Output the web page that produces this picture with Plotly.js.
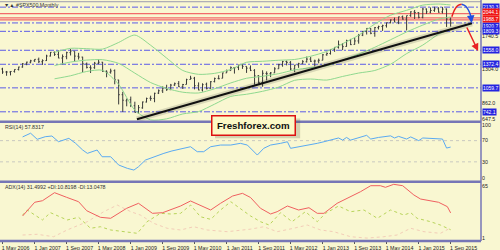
<!DOCTYPE html>
<html><head><meta charset="utf-8">
<script src="https://cdn.plot.ly/plotly-3.0.1.min.js"></script>
<style>html,body{margin:0;padding:0;background:#f9f7d1;}#chart{width:500px;height:250px;}</style>
</head><body><div id="chart"></div>
<script>
// ---- monthly bars (May 2006 .. Sep 2015) ----
const months = [
 "2006-05","2006-06","2006-07","2006-08","2006-09","2006-10","2006-11","2006-12",
 "2007-01","2007-02","2007-03","2007-04","2007-05","2007-06","2007-07","2007-08","2007-09","2007-10","2007-11","2007-12",
 "2008-01","2008-02","2008-03","2008-04","2008-05","2008-06","2008-07","2008-08","2008-09","2008-10","2008-11","2008-12",
 "2009-01","2009-02","2009-03","2009-04","2009-05","2009-06","2009-07","2009-08","2009-09","2009-10","2009-11","2009-12",
 "2010-01","2010-02","2010-03","2010-04","2010-05","2010-06","2010-07","2010-08","2010-09","2010-10","2010-11","2010-12",
 "2011-01","2011-02","2011-03","2011-04","2011-05","2011-06","2011-07","2011-08","2011-09","2011-10","2011-11","2011-12",
 "2012-01","2012-02","2012-03","2012-04","2012-05","2012-06","2012-07","2012-08","2012-09","2012-10","2012-11","2012-12",
 "2013-01","2013-02","2013-03","2013-04","2013-05","2013-06","2013-07","2013-08","2013-09","2013-10","2013-11","2013-12",
 "2014-01","2014-02","2014-03","2014-04","2014-05","2014-06","2014-07","2014-08","2014-09","2014-10","2014-11","2014-12",
 "2015-01","2015-02","2015-03","2015-04","2015-05","2015-06","2015-07","2015-08","2015-09"];
const opens = [
 1310,1270,1270,1278,1303,1336,1377,1400,
 1418,1438,1406,1421,1482,1531,1504,1455,1473,1527,1545,1479,
 1468,1378,1330,1327,1386,1400,1280,1267,1288,1164,969,888,
 903,823,730,794,872,923,920,990,1020,1055,1036,1097,
 1116,1074,1105,1171,1188,1088,1032,1108,1050,1143,1185,1187,
 1258,1289,1328,1329,1365,1345,1322,1292,1220,1132,1251,1247,
 1258,1313,1366,1409,1398,1310,1363,1380,1406,1441,1413,1416,
 1426,1498,1515,1569,1597,1631,1609,1690,1636,1682,1758,1806,
 1846,1783,1858,1873,1884,1924,1962,1929,2004,1972,2019,2066,
 2059,1996,2105,2064,2087,2108,2067,2105,1970];
const highs = [
 1326,1284,1281,1306,1340,1389,1407,1432,
 1441,1461,1438,1499,1535,1541,1556,1503,1539,1576,1545,1524,
 1472,1396,1359,1404,1440,1404,1292,1314,1304,1167,1007,918,
 944,876,832,878,930,956,996,1039,1080,1101,1112,1130,
 1150,1112,1181,1220,1205,1132,1120,1129,1150,1196,1227,1262,
 1302,1344,1332,1365,1371,1346,1357,1308,1229,1293,1278,1270,
 1334,1378,1419,1422,1415,1363,1392,1427,1475,1471,1434,1448,
 1509,1530,1570,1598,1687,1654,1698,1709,1730,1775,1813,1849,
 1850,1867,1884,1897,1924,1968,1991,2005,2019,2018,2076,2093,
 2064,2120,2114,2126,2135,2129,2133,2113,1993];
const lows = [
 1245,1220,1225,1262,1290,1327,1360,1385,
 1403,1389,1364,1416,1476,1484,1453,1371,1439,1489,1407,1435,
 1270,1317,1257,1312,1373,1272,1200,1248,1107,840,741,815,
 805,735,720,783,866,888,869,978,992,1020,1030,1086,
 1071,1045,1105,1170,1040,1028,1011,1040,1048,1132,1173,1187,
 1257,1289,1249,1295,1311,1258,1282,1102,1114,1075,1158,1202,
 1258,1312,1340,1358,1291,1267,1325,1378,1396,1403,1343,1385,
 1426,1485,1501,1537,1581,1560,1605,1627,1633,1646,1746,1767,
 1771,1738,1834,1815,1859,1915,1931,1905,1964,1821,2001,1973,
 1981,1981,2040,2049,2068,2056,2045,1867,1872];
const closes = [
 1270,1270,1277,1304,1336,1378,1401,1418,
 1438,1407,1421,1482,1531,1503,1455,1474,1527,1549,1481,1468,
 1378,1331,1323,1386,1400,1280,1267,1283,1166,969,896,903,
 826,735,798,873,919,919,987,1021,1057,1036,1096,1115,
 1074,1104,1169,1187,1089,1031,1102,1049,1141,1183,1181,1258,
 1286,1327,1326,1364,1345,1321,1292,1219,1131,1253,1247,1258,
 1312,1366,1408,1398,1310,1362,1379,1407,1441,1412,1416,1426,
 1498,1515,1569,1598,1631,1606,1686,1633,1682,1757,1806,1848,
 1783,1859,1872,1884,1924,1960,1931,2003,1972,2018,2068,2059,
 1995,2105,2068,2086,2107,2063,2104,1972,1920];

// ---- Bollinger bands (sampled) ----
const bbDates = ["2007-06","2007-10","2008-02","2008-06","2008-10","2009-02","2009-06","2009-10","2010-02","2010-06","2010-10","2011-02","2011-06","2011-10","2012-02","2012-06","2012-10","2013-02","2013-06","2013-10","2014-02","2014-06","2014-10","2015-02","2015-06","2015-09"];
const bbMid   = [1355,1402,1428,1433,1384,1255,1130,1052,1002,992,1048,1125,1187,1213,1248,1298,1328,1353,1428,1507,1598,1698,1801,1892,1971,1999];
const bbUpper = [1530,1584,1579,1574,1662,1760,1625,1455,1290,1239,1252,1304,1399,1412,1426,1436,1479,1543,1645,1758,1906,2023,2088,2157,2171,2159];
const bbLower = [1180,1220,1277,1292,1106,764,635,649,714,745,844,946,975,1014,1070,1160,1177,1163,1211,1256,1290,1373,1514,1627,1771,1839];

// ---- horizontal levels ----
const blueLevels = [2130.3,1920.7,1809.3,1558.0,1372.4,1059.7,742.1];
const redLevels  = [2044.1,1988.7,1960.0];
const redLabels  = [2044.1,1988.7];
const greyLevels = [2202];
const priceTicks = [1740.5,1304.0,862.0,647.5];

// ---- trend line and arrows ----
const trendDates  = ["2009-02-17","2016-02-10"];
const trendValues = [643,1916];
const arcRedDates = ["2015-09-10","2015-10-04","2015-10-28","2015-11-24"];
const arcRedVals  = [2003,2105,2152,2168];
const arcBlueDates = ["2015-11-24","2015-12-23","2016-01-14","2016-02-01","2016-02-08"];
const arcBlueVals  = [2168,2145,2092,2013,1945];
const redArrowFrom = ["2015-12-28",1880];
const redArrowTo   = ["2016-03-28",1548];

// ---- RSI(14) ----
const rsiDates = ["2006-10-01","2006-12-01","2007-01-20","2007-03-22","2007-05-12","2007-07-01","2007-09-18","2007-11-08","2008-01-01","2008-02-06","2008-03-12","2008-04-20","2008-05-28","2008-08-01","2008-10-01","2008-12-06","2009-01-25","2009-03-01","2009-04-23","2009-06-25","2009-09-10","2009-11-10","2010-02-08","2010-04-01","2010-05-22","2010-07-10","2010-09-01","2010-11-15","2011-02-01","2011-04-15","2011-06-07","2011-08-22","2011-10-10","2011-12-01","2012-02-15","2012-04-07","2012-05-01","2012-07-15","2012-09-07","2012-11-20","2013-01-10","2013-03-01","2013-05-01","2013-06-01","2013-07-01","2013-08-01","2013-10-01","2013-12-01","2014-01-01","2014-03-01","2014-06-01","2014-07-01","2014-08-01","2014-10-01","2014-11-01","2015-01-01","2015-02-01","2015-05-01","2015-07-01","2015-08-01","2015-09-01"];
const rsiValues = [77,84,72.5,77.4,78.7,68,74.3,65,52.3,46,49,52.3,39.6,39.6,24,17.7,14.5,20.8,33.4,39.6,46,50.5,55.5,58.5,49.1,49.1,58.5,61.7,61.7,64.9,61.7,42.8,55.5,61.7,64.9,67.9,55.5,58.5,61.7,64.9,67.9,71.1,75,71,76,71,76,80,73,76,79,75,78,73,77,70,75,74,73,56,57.83];
const rsiLevels = [70,30];

// ---- ADX(14) ----
const adxDates = ["2006-10-01","2007-01-01","2007-03-01","2007-06-01","2007-09-01","2007-12-01","2008-02-01","2008-05-15","2008-08-01","2008-12-01","2009-03-01","2009-06-15","2009-09-01","2010-01-15","2010-04-01","2010-06-15","2010-09-01","2010-11-15","2011-02-15","2011-05-01","2011-07-01","2011-09-15","2011-12-01","2012-01-20","2012-04-07","2012-07-01","2012-09-18","2012-11-20","2013-01-10","2013-04-20","2013-08-01","2013-10-15","2014-01-01","2014-03-15","2014-04-23","2014-06-25","2014-09-01","2014-11-25","2015-01-15","2015-04-01","2015-06-01","2015-08-07","2015-09-01"];
const adxValues = [27.7,44.6,46.5,56.4,50.7,45.3,34.2,26.1,24.9,37.2,43.3,31,31.8,40,46.2,41.2,35.1,43.3,52.3,55.6,50.5,37.2,30.2,33,40,35.1,37.9,31,31,43.3,51.5,57.6,65,65,63,66.7,65,53.6,48.6,46.2,44.6,39.2,31.5];
const pdiDates = ["2006-10-01","2006-11-05","2007-03-01","2007-05-01","2007-09-05","2007-12-01","2008-03-01","2008-05-15","2008-08-01","2008-12-05","2009-02-20","2009-05-05","2009-08-15","2009-11-01","2010-01-15","2010-04-01","2010-06-15","2010-09-01","2010-11-15","2011-02-01","2011-04-15","2011-07-01","2011-09-15","2011-11-20","2012-02-15","2012-05-12","2012-08-22","2012-11-20","2013-01-22","2013-05-01","2013-08-01","2013-11-10","2014-02-20","2014-06-01","2014-09-10","2014-11-01","2014-12-20","2015-04-01","2015-06-15","2015-09-01"];
const pdiValues = [28.9,35.1,22.8,31.8,22.8,26.1,12.6,14.5,10.5,8.4,6.4,20.7,31,30.2,31,41.2,26.8,23.6,35.1,45.3,37.2,27.8,20.7,16.6,31.8,20.7,33,20.7,31,40,33,35.1,24.9,35.1,28.9,31.8,24.9,20.7,16.6,10.82];
const mdiDates = ["2006-10-01","2007-01-20","2007-05-25","2007-09-05","2008-02-05","2008-06-10","2008-09-20","2009-01-01","2009-03-15","2009-06-25","2009-10-05","2010-01-15","2010-04-25","2010-08-05","2011-01-05","2011-07-01","2011-10-10","2012-01-20","2012-05-25","2012-09-05","2012-12-15","2013-03-25","2013-08-01","2013-12-05","2014-04-10","2014-07-20","2014-11-01","2015-02-10","2015-06-15","2015-09-01"];
const mdiValues = [4.3,5.2,2.2,10.5,20.7,33,41.2,33,28.9,18.7,12.6,10.5,14.5,10.5,8.4,11.5,14.5,8.4,12.6,16.6,10.5,8.4,2.2,0.5,2.2,4.3,12.6,8.4,6.4,13.05];

// ---- x tick labels ----
const tickDates  = ["2006-05-01","2007-01-01","2007-09-01","2008-05-01","2009-01-01","2009-09-01","2010-05-01","2011-01-01","2011-09-01","2012-05-01","2013-01-01","2013-09-01","2014-05-01","2015-01-01","2015-09-01"];
const tickLabels = ["1 May 2006","1 Jan 2007","1 Sep 2007","1 May 2008","1 Jan 2009","1 Sep 2009","1 May 2010","1 Jan 2011","1 Sep 2011","1 May 2012","1 Jan 2013","1 Sep 2013","1 May 2014","1 Jan 2015","1 Sep 2015"];

const BG = '#f9f7d1', SEP = '#7676b6', BAND = '#8fd88f';
const FONT = 'Liberation Sans, Arial, sans-serif';
// vertical nudges (px) for the crowded price-label boxes near the top
const labelShift = {'2044.1':1.8, '1988.7':-0.8, '1920.7':-3.2};

const traces = [
  {type:'ohlc', x:months, open:opens, high:highs, low:lows, close:closes, xaxis:'x', yaxis:'y',
   increasing:{line:{color:'#3a3a3a', width:1}}, decreasing:{line:{color:'#3a3a3a', width:1}}, tickwidth:0.3, hoverinfo:'skip'},
  {type:'scatter', mode:'lines', x:bbDates, y:bbUpper, line:{color:BAND, width:1, shape:'spline', smoothing:0.7}, yaxis:'y'},
  {type:'scatter', mode:'lines', x:bbDates, y:bbMid,   line:{color:BAND, width:1, shape:'spline', smoothing:0.7}, yaxis:'y'},
  {type:'scatter', mode:'lines', x:bbDates, y:bbLower, line:{color:BAND, width:1, shape:'spline', smoothing:0.7}, yaxis:'y'},
  {type:'scatter', mode:'lines', x:trendDates, y:trendValues, line:{color:'rgba(0,0,0,0.13)', width:6}, yaxis:'y'},
  {type:'scatter', mode:'lines', x:trendDates, y:trendValues, line:{color:'#111', width:2}, yaxis:'y'},
  {type:'scatter', mode:'lines', x:arcRedDates, y:arcRedVals, line:{color:'#e82222', width:1.5, shape:'spline'}, yaxis:'y'},
  {type:'scatter', mode:'lines', x:arcBlueDates, y:arcBlueVals, line:{color:'#2250e0', width:1.5, shape:'spline'}, yaxis:'y'},
  {type:'scatter', mode:'lines', x:rsiDates, y:rsiValues, line:{color:'#5aaaf2', width:1}, yaxis:'y2'},
  {type:'scatter', mode:'lines', x:mdiDates, y:mdiValues, line:{color:'#f3cdb8', width:1, dash:'dot'}, yaxis:'y3'},
  {type:'scatter', mode:'lines', x:pdiDates, y:pdiValues, line:{color:'#b8d45a', width:1, dash:'dot'}, yaxis:'y3'},
  {type:'scatter', mode:'lines', x:adxDates, y:adxValues, line:{color:'#f06060', width:1}, yaxis:'y3'}
];

const shapes = [];
greyLevels.forEach(v => shapes.push({type:'line', xref:'paper', x0:0, x1:1, yref:'y', y0:v, y1:v, line:{color:'#9a9ab0', width:1}, layer:'below'}));
blueLevels.forEach(v => shapes.push({type:'line', xref:'paper', x0:0, x1:1, yref:'y', y0:v, y1:v, line:{color:'#5c5ce8', width:1, dash:'6px,2px,2px,2px'}, layer:'below'}));
redLevels.forEach(v => shapes.push({type:'line', xref:'paper', x0:0, x1:1, yref:'y', y0:v, y1:v, line:{color:'#f26a6a', width:1.3}, layer:'below'}));
rsiLevels.forEach(v => shapes.push({type:'line', xref:'paper', x0:0, x1:1, yref:'y2', y0:v, y1:v, line:{color:'#c9c9c0', width:1, dash:'dot'}, layer:'below'}));
[0.495, 0.246, 0].forEach(p => shapes.push({type:'line', xref:'paper', yref:'paper', x0:0, x1:1, y0:p, y1:p, line:{color:SEP, width:2.5}}));
shapes.push({type:'line', xref:'paper', yref:'paper', x0:1, x1:1, y0:0, y1:1, line:{color:SEP, width:1.5}});
shapes.push({type:'rect', xref:'paper', yref:'paper', x0:0.447, x1:0.624, y0:0.426, y1:0.508, fillcolor:'rgba(80,80,60,0.22)', line:{width:0}});

const annotations = [];
function levelLabel(v, bg) {
  annotations.push({xref:'paper', x:1, xanchor:'left', xshift:0.5, yref:'y', y:v, yanchor:'middle',
    yshift:labelShift[v.toFixed(1)] || 0, text:v.toFixed(1), showarrow:false, bgcolor:bg, borderpad:0,
    font:{family:FONT, size:5, color:'#ffffff'}});
}
blueLevels.forEach(v => levelLabel(v, '#2424e0'));
redLabels.forEach(v => levelLabel(v, '#f01616'));
annotations.push({xref:'x', yref:'y', x:redArrowTo[0], y:redArrowTo[1], axref:'x', ayref:'y', ax:redArrowFrom[0], ay:redArrowFrom[1], text:'', showarrow:true, arrowhead:2, arrowsize:1, arrowwidth:1.5, arrowcolor:'#e82222'});
annotations.push({xref:'x', yref:'y', x:arcBlueDates[4], y:arcBlueVals[4] - 25, axref:'x', ayref:'y', ax:arcBlueDates[3], ay:arcBlueVals[3], text:'', showarrow:true, arrowhead:2, arrowsize:1, arrowwidth:1.5, arrowcolor:'#2250e0'});
annotations.push({xref:'paper', yref:'paper', x:0, y:1, xanchor:'left', yanchor:'top', xshift:2, text:'▼▲ #SPX500,Monthly', showarrow:false, font:{family:FONT, size:5.3, color:'#333'}});
annotations.push({xref:'paper', yref:'paper', x:0, y:0.492, xanchor:'left', yanchor:'top', xshift:3, text:'RSI(14) 57.8317', showarrow:false, font:{family:FONT, size:5.3, color:'#333'}});
annotations.push({xref:'paper', yref:'paper', x:0, y:0.243, xanchor:'left', yanchor:'top', xshift:3, text:'ADX(14) 31.4992 +DI:10.8198 -DI:13.0478', showarrow:false, font:{family:FONT, size:5.3, color:'#333'}});
annotations.push({xref:'paper', yref:'paper', x:0.528, y:0.4813, xanchor:'center', yanchor:'middle', text:'<b>Freshforex.com</b>', showarrow:false, bgcolor:'#fcf9c6', bordercolor:'#dd1111', borderwidth:1.5, borderpad:1, width:80, height:16, font:{family:FONT, size:9.7, color:'#111'}});

const axY = {showgrid:false, zeroline:false, side:'right', ticks:'', showline:false, tickfont:{family:FONT, size:5.3, color:'#222'}, fixedrange:true};
const layout = {
  width:500, height:250,
  margin:{l:0, r:19, t:0, b:9, pad:0},
  paper_bgcolor:BG, plot_bgcolor:BG,
  showlegend:false, hovermode:false,
  font:{family:FONT, size:5.3, color:'#222'},
  xaxis:{type:'date', range:['2006-04-12','2016-04-19'], anchor:'y3', rangeslider:{visible:false}, showgrid:false, zeroline:false,
         tickvals:tickDates, ticktext:tickLabels, ticks:'outside', ticklen:2, tickcolor:'#555', ticklabelshift:13,
         tickfont:{family:FONT, size:5.3, color:'#222'}, showline:false},
  yaxis:Object.assign({domain:[0.495,1], range:[610.9,2224.8], tickvals:priceTicks, ticktext:priceTicks.map(v=>v.toFixed(1))}, axY),
  yaxis2:Object.assign({domain:[0.246,0.495], range:[-7.5,105.7], tickvals:[100,70,30,0], ticktext:['100','70','30','0']}, axY),
  yaxis3:Object.assign({domain:[0,0.246], range:[-3.06,69.9], tickvals:[65,1], ticktext:['65','1']}, axY),
  shapes:shapes, annotations:annotations
};
Plotly.newPlot('chart', traces, layout, {staticPlot:true, displayModeBar:false});
</script></body></html>
